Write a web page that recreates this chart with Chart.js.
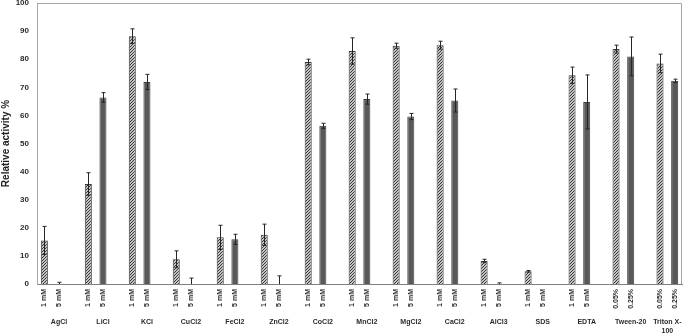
<!DOCTYPE html>
<html lang="en">
<head>
<meta charset="UTF-8">
<title>Relative activity</title>
<script src="https://cdn.jsdelivr.net/npm/chart.js"></script>
<style>
    body { margin: 0; background: #fff; }
</style>
</head>
<body>
<canvas id="grafico" width="685" height="333"></canvas>
<script>
    // grupos (sais / detergentes) e concentrações
    var grupos = ['AgCl', 'LiCl', 'KCl', 'CuCl2', 'FeCl2', 'ZnCl2', 'CoCl2', 'MnCl2', 'MgCl2', 'CaCl2', 'AlCl3', 'SDS', 'EDTA', 'Tween-20', ['Triton X-', '100']];
    var concBaixa = ['1 mM', '1 mM', '1 mM', '1 mM', '1 mM', '1 mM', '1 mM', '1 mM', '1 mM', '1 mM', '1 mM', '1 mM', '1 mM', '0.05%', '0.05%'];
    var concAlta = ['5 mM', '5 mM', '5 mM', '5 mM', '5 mM', '5 mM', '5 mM', '5 mM', '5 mM', '5 mM', '5 mM', '5 mM', '5 mM', '0.25%', '0.25%'];

    // atividade relativa (%) e desvios
    var valorBaixo = [15.5, 35.6, 88.2, 8.8, 16.6, 17.5, 79.0, 82.9, 84.8, 85.0, 8.2, 4.5, 74.3, 83.6, 78.5];
    var erroBaixo = [5.0, 4.0, 2.6, 3.0, 4.3, 3.8, 1.0, 4.7, 0.9, 1.4, 0.6, 0.3, 2.9, 1.4, 3.3];
    var valorAlto = [0, 66.4, 71.9, 0, 15.9, 0, 56.3, 65.8, 59.6, 65.3, 0, 0, 64.8, 81.0, 72.3];
    var erroAlto = [0.6, 1.7, 2.7, 2.1, 1.8, 2.9, 0.9, 1.8, 1.1, 4.1, 0.4, 0, 9.6, 6.9, 0.6];

    var ticksY = [0, 10, 20, 30, 40, 50, 60, 70, 80, 90, 100];

    var corTexto = '#2b2b2b';
    var fonte = "'Liberation Sans', Arial, sans-serif";

    // monta as posições: baixo, alto, vazio
    var rotulosX = [];
    var dadosBaixo = [];
    var dadosAlto = [];
    for (var i = 0; i < grupos.length; i++) {
        rotulosX.push(concBaixa[i], concAlta[i]);
        dadosBaixo.push(valorBaixo[i], null);
        dadosAlto.push(null, valorAlto[i]);
        if (i < grupos.length - 1) {
            rotulosX.push('');
            dadosBaixo.push(null);
            dadosAlto.push(null);
        }
    }

    function criarHachura() {
        var c = document.createElement('canvas');
        c.width = 3;
        c.height = 3;
        var ctx = c.getContext('2d');
        ctx.fillStyle = '#ffffff';
        ctx.fillRect(0, 0, 3, 3);
        ctx.strokeStyle = '#2e2e2e';
        ctx.lineWidth = 1.1;
        ctx.beginPath();
        ctx.moveTo(0, 3); ctx.lineTo(3, 0);
        ctx.moveTo(-1, 1); ctx.lineTo(1, -1);
        ctx.moveTo(2, 4); ctx.lineTo(4, 2);
        ctx.stroke();
        return ctx.createPattern(c, 'repeat');
    }

    var extras = {
        id: 'extras',
        afterDatasetsDraw: function (chart) {
            var ctx = chart.ctx;
            var x = chart.scales.x;
            var y = chart.scales.y;
            ctx.save();
            ctx.strokeStyle = '#262626';
            ctx.lineWidth = 1;
            for (var i = 0; i < grupos.length; i++) {
                var pares = [[3 * i, valorBaixo[i], erroBaixo[i]], [3 * i + 1, valorAlto[i], erroAlto[i]]];
                pares.forEach(function (p) {
                    if (!p[2]) return;
                    var px = Math.round(x.getPixelForValue(p[0])) + 0.5;
                    var topo = y.getPixelForValue(p[1] + p[2]);
                    var base = y.getPixelForValue(Math.max(0, p[1] - p[2]));
                    ctx.beginPath();
                    ctx.moveTo(px, topo); ctx.lineTo(px, base);
                    ctx.moveTo(px - 2, topo); ctx.lineTo(px + 2, topo);
                    if (p[1] - p[2] > 0) {
                        ctx.moveTo(px - 2, base); ctx.lineTo(px + 2, base);
                    }
                    ctx.stroke();
                });
            }
            ctx.restore();
        },
        afterDraw: function (chart) {
            var ctx = chart.ctx;
            var area = chart.chartArea;
            var x = chart.scales.x;
            ctx.save();
            // moldura do gráfico (topo e direita)
            ctx.strokeStyle = '#a6a6a6';
            ctx.lineWidth = 1;
            ctx.beginPath();
            ctx.moveTo(area.left, area.top + 0.5);
            ctx.lineTo(area.right - 0.5, area.top + 0.5);
            ctx.lineTo(area.right - 0.5, area.bottom);
            ctx.stroke();

            // nomes dos grupos
            ctx.fillStyle = corTexto;
            ctx.font = 'bold 7px ' + fonte;
            ctx.textAlign = 'center';
            ctx.textBaseline = 'middle';
            for (var i = 0; i < grupos.length; i++) {
                var fim = i < grupos.length - 1 ? 3 * i + 2 : 3 * i + 1;
                var cx = (x.getPixelForValue(3 * i) + x.getPixelForValue(fim)) / 2;
                var linhas = Array.isArray(grupos[i]) ? grupos[i] : [grupos[i]];
                for (var l = 0; l < linhas.length; l++) {
                    ctx.fillText(linhas[l], cx, area.bottom + 38 + l * 9.5);
                }
            }
            ctx.restore();
        }
    };

    new Chart(document.getElementById('grafico'), {
        type: 'bar',
        data: {
            labels: rotulosX,
            datasets: [{
                data: dadosBaixo,
                backgroundColor: criarHachura(),
                borderColor: '#3a3a3a',
                borderWidth: 1
            }, {
                data: dadosAlto,
                backgroundColor: '#595959',
                borderColor: '#404040',
                borderWidth: 1
            }]
        },
        options: {
            responsive: false,
            animation: false,
            layout: {
                padding: { top: 3, right: 3, bottom: 20, left: 0 }
            },
            datasets: {
                bar: {
                    grouped: false,
                    categoryPercentage: 1,
                    barPercentage: 0.48
                }
            },
            plugins: {
                legend: { display: false },
                tooltip: { enabled: false }
            },
            scales: {
                x: {
                    grid: { display: false, drawTicks: false },
                    border: { display: true, color: '#7f7f7f' },
                    ticks: {
                        autoSkip: false,
                        minRotation: 90,
                        maxRotation: 90,
                        padding: 5,
                        color: corTexto,
                        font: { family: fonte, size: 7, weight: 'bold' }
                    },
                    afterFit: function (eixo) {
                        eixo.height = 29;
                        eixo.paddingLeft = 0;
                        eixo.paddingRight = 0;
                    }
                },
                y: {
                    min: 0,
                    max: 100,
                    afterBuildTicks: function (eixo) {
                        eixo.ticks = ticksY.map(function (v) { return { value: v }; });
                    },
                    grid: { display: false, drawTicks: false },
                    border: { display: true, color: '#a6a6a6' },
                    ticks: {
                        padding: 8,
                        color: corTexto,
                        font: { family: fonte, size: 8, weight: 'bold' }
                    },
                    title: {
                        display: true,
                        text: 'Relative activity %',
                        color: '#1f1f1f',
                        padding: { top: 0, bottom: 0 },
                        font: { family: fonte, size: 10, weight: 'bold' }
                    },
                    afterFit: function (eixo) {
                        eixo.width = 37;
                        eixo.paddingTop = 0;
                        eixo.paddingBottom = 0;
                    }
                }
            }
        },
        plugins: [extras]
    });
</script>
</body>
</html>
